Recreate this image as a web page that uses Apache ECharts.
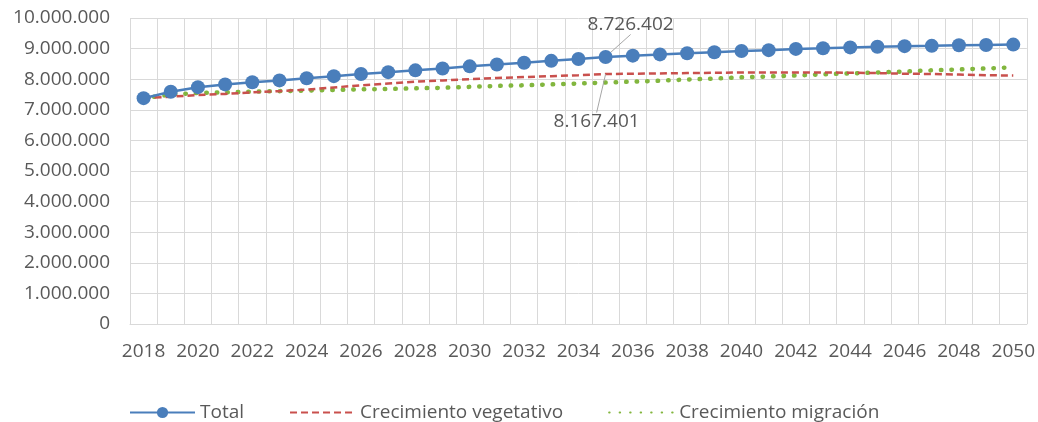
<!DOCTYPE html>
<html>
<head>
<meta charset="utf-8">
<script src="https://cdn.jsdelivr.net/npm/echarts@6/dist/echarts.min.js"></script>
<style>
  html, body { margin: 0; padding: 0; background: #fff; }
  #chart { width: 1038px; height: 422px; }
</style>
</head>
<body>
<div id="chart"></div>
<script>
const years = []
for (let y = 2018; y <= 2050; y++) years.push(String(y))

// (millions), 2035 values are the labelled ones
const total = [7.38, 7.59, 7.74, 7.83, 7.90, 7.96, 8.03, 8.10, 8.17, 8.23, 8.29, 8.35, 8.42, 8.48, 8.54, 8.60, 8.66,
  8.726402, 8.77, 8.81, 8.85, 8.88, 8.92, 8.95, 8.99, 9.01, 9.04, 9.06, 9.08, 9.09, 9.11, 9.12, 9.13]
const vegetativo = [7.38, 7.43, 7.48, 7.52, 7.57, 7.61, 7.66, 7.73, 7.80, 7.86, 7.92, 7.96, 8.00, 8.04, 8.07, 8.10, 8.13,
  8.167401, 8.18, 8.19, 8.20, 8.21, 8.22, 8.22, 8.22, 8.22, 8.21, 8.20, 8.18, 8.17, 8.15, 8.13, 8.12]
const migracion = [7.38, 7.50, 7.55, 7.57, 7.59, 7.61, 7.63, 7.65, 7.67, 7.68, 7.70, 7.72, 7.75, 7.78, 7.80, 7.83, 7.86,
  7.89, 7.92, 7.95, 7.99, 8.02, 8.06, 8.09, 8.12, 8.16, 8.19, 8.22, 8.25, 8.29, 8.32, 8.35, 8.39]
const labelIndex = 17

const fmt = (v) => Math.round(v).toString().replace(/\B(?=(\d{3})+(?!\d))/g, '.')
const toData = (arr, labelled, hidden) => arr.map((v, i) => {
  const value = Math.round(v * 1e6)
  if (!labelled || i !== labelIndex) return value
  const item = { value, label: { show: true } }
  // label needs a symbol to hang on; keep it tiny for the dashed series
  if (hidden) Object.assign(item, { symbol: 'circle', symbolSize: 0.1 })
  return item
})

const grey = '#595959'
const font = 'Open Sans'
const noSymbol = { itemStyle: { opacity: 0, color: 'transparent', borderWidth: 0 } }

const chart = echarts.init(document.getElementById('chart'))
chart.setOption({
  animation: false,
  textStyle: { fontFamily: font },
  grid: { left: 130, right: 11, top: 18, bottom: 98 },
  legend: {
    left: 124,
    top: 398,
    itemWidth: 65,
    itemHeight: 14,
    itemGap: 45,
    textStyle: { fontSize: 19, color: grey, fontFamily: font },
    data: [
      'Total',
      Object.assign({ name: 'Crecimiento vegetativo' }, noSymbol),
      Object.assign({ name: 'Crecimiento migración' }, noSymbol)
    ]
  },
  xAxis: {
    type: 'category',
    data: years,
    boundaryGap: true,
    axisLine: { lineStyle: { color: '#d9d9d9' } },
    axisTick: { show: false },
    axisLabel: { interval: 1, color: grey, fontSize: 19, margin: 18 },
    splitLine: { show: true, interval: 0, lineStyle: { color: '#d9d9d9' } }
  },
  yAxis: {
    type: 'value',
    min: 0,
    max: 10000000,
    interval: 1000000,
    axisLine: { show: false },
    axisTick: { show: false },
    axisLabel: { color: grey, fontSize: 19, margin: 20, formatter: fmt },
    splitLine: { lineStyle: { color: '#d9d9d9' } }
  },
  labelLayout: (p) => {
    if (p.seriesIndex === 0) return { dx: 25, dy: -32 }
    if (p.seriesIndex === 1) return { dx: -9, dy: 48 }
  },
  series: [
    {
      name: 'Total',
      type: 'line',
      data: toData(total, true, false),
      symbol: 'circle',
      symbolSize: 14,
      itemStyle: { color: '#4a7ebb' },
      lineStyle: { color: '#4a7ebb', width: 2.5 },
      label: { show: false, position: 'inside', color: grey, fontSize: 19, formatter: (p) => fmt(p.value) },
      labelLine: { show: true, lineStyle: { color: '#a6a6a6', width: 1 } },
      emphasis: { disabled: true },
      z: 3
    },
    {
      name: 'Crecimiento vegetativo',
      type: 'line',
      data: toData(vegetativo, true, true),
      symbol: 'none',
      itemStyle: { color: '#c9504d' },
      lineStyle: { color: '#c9504d', width: 2.5, type: [7, 4] },
      label: { show: false, position: 'inside', color: grey, fontSize: 19, formatter: (p) => fmt(p.value) },
      labelLine: { show: true, lineStyle: { color: '#a6a6a6', width: 1 } },
      emphasis: { disabled: true },
      z: 2
    },
    {
      name: 'Crecimiento migración',
      type: 'line',
      data: toData(migracion, false, false),
      symbol: 'none',
      itemStyle: { color: '#82b63e' },
      lineStyle: { color: '#82b63e', width: 4.5, type: [0.5, 10], cap: 'round' },
      emphasis: { disabled: true },
      z: 1
    }
  ]
})
</script>
</body>
</html>
